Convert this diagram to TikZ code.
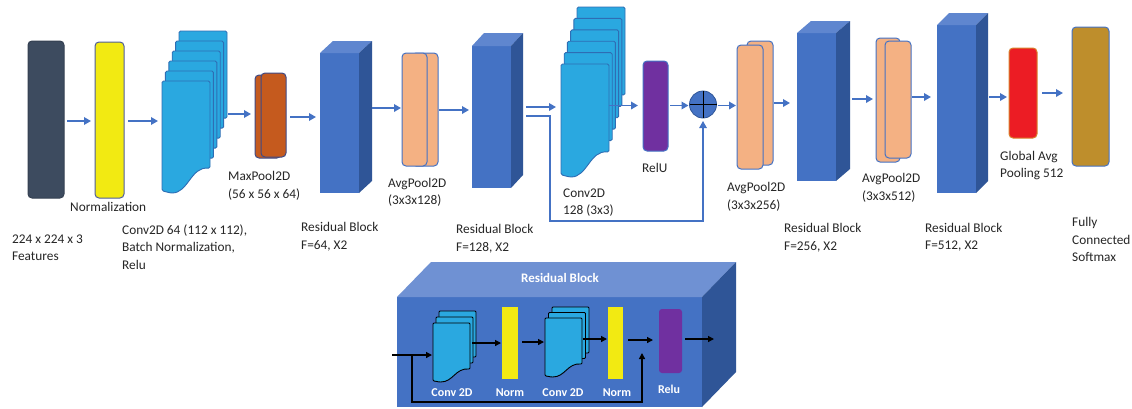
\documentclass[tikz,border=0pt]{standalone}
\usepackage{fontspec}
\setmainfont{Carlito}
\usetikzlibrary{arrows.meta,calc}
\definecolor{ablue}{HTML}{4472C4}
\definecolor{inpc}{HTML}{3D4B5F}
\definecolor{yelc}{HTML}{F2EA12}
\definecolor{yelline}{HTML}{4F5D9C}
\definecolor{cyanc}{HTML}{2AA8E0}
\definecolor{cyanline}{HTML}{2E6DB4}
\definecolor{mpc}{HTML}{C55A1E}
\definecolor{mpline}{HTML}{3E4A86}
\definecolor{apc}{HTML}{F4B183}
\definecolor{resfc}{HTML}{4472C4}
\definecolor{restc}{HTML}{5F86CF}
\definecolor{ressc}{HTML}{2F5597}
\definecolor{purp}{HTML}{7030A0}
\definecolor{redc}{HTML}{EC1C24}
\definecolor{redline}{HTML}{D9822B}
\definecolor{fcc}{HTML}{BE8E2C}
\definecolor{txt}{HTML}{262626}
\definecolor{dtop}{HTML}{6F91D3}
\tikzset{
 arr/.style={draw=ablue, line width=1.7pt, -{Triangle[length=7pt,width=7.5pt]}},
 iarr/.style={draw=black, line width=1.3pt, -{Triangle[length=6pt,width=6pt]}},
 blk/.style={rounded corners=4pt, line width=1pt, inner sep=0, outer sep=0},
 lbl/.style={font=\fontsize{13.3}{17.5}\selectfont, text=txt, align=left, inner sep=0, anchor=west},
 wlbl/.style={font=\bfseries\fontsize{12}{14}\selectfont, text=white, inner sep=0},
 sheetst/.style={fill=cyanc, draw=cyanline, line width=0.9pt, rounded corners=1.5pt},
 isheet/.style={fill=cyanc, draw=black, line width=0.9pt, rounded corners=1pt},
 resfront/.style={fill=resfc, inner sep=0, outer sep=0},
 ghost/.style={inner sep=0, outer sep=0},
}
% x, y(top), w, h, style
\newcommand\convsheet[5]{\draw[#5] ({#1},{#2}) -- ({#1+#3},{#2}) -- ({#1+#3},{#2+0.78*#4}) .. controls ({#1+0.6*#3},{#2+0.76*#4}) and ({#1+0.55*#3},{#2+#4}) .. ({#1+0.18*#3},{#2+#4}) -- ({#1},{#2+0.98*#4}) -- cycle;}
% name, x left, y top, w, h, dx, dy(up)
\newcommand\rblock[7]{%
 \node[resfront, minimum width=#4pt, minimum height=#5pt, anchor=north west] (#1) at (#2,#3) {};
 \fill[restc] (#1.north west) -- ++(#6,-#7) -- ++(#4,0) -- (#1.north east) -- cycle;
 \fill[ressc] (#1.north east) -- ++(#6,-#7) -- ++(0,#5) -- (#1.south east) -- cycle;
 \coordinate (#1o) at ($(#1.east)+(#6,0)$);
}
\begin{document}
\begin{tikzpicture}[x=1pt,y=-1pt]
\useasboundingbox (0,0) rectangle (1132,408);
\fill[white] (0,0) rectangle (1132,408);

% input and normalization
\node[blk, fill=inpc, draw=inpc!85!black, minimum width=36pt, minimum height=157pt] (inp) at (46,119.5) {};
\node[blk, fill=yelc, draw=yelline, minimum width=29pt, minimum height=156pt] (nrm) at (109.5,120) {};

% conv stack 1
\foreach \i in {5,4,...,0} {\convsheet{162+3.4*\i}{81-10*\i}{48}{112}{sheetst}}
\node[ghost, minimum width=48pt, minimum height=112pt, anchor=north west] (c1) at (162,81) {};
\coordinate (c1o) at ($(c1.east)+(17,0)$);

% maxpool
\node[blk, fill=mpc, draw=mpline, minimum width=26pt, minimum height=83pt] (mpb) at (268,116.5) {};
\node[blk, fill=mpc, draw=mpline, minimum width=25pt, minimum height=84pt] (mp) at (273.5,115) {};

% residual blocks
\rblock{r1}{320}{53}{39}{140}{13}{12}
\rblock{r2}{472}{46}{39}{142}{12}{13}
\rblock{r3}{797}{33}{39}{148}{14}{12}
\rblock{r4}{937}{25}{39}{168}{12}{12}

% avgpools
\node[blk, fill=apc, draw=ablue, minimum width=26pt, minimum height=113pt] (a1b) at (425,109.5) {};
\node[blk, fill=apc, draw=ablue, minimum width=25pt, minimum height=113pt] (a1) at (414.5,109.5) {};
\node[blk, fill=apc, draw=ablue, minimum width=26pt, minimum height=124pt] (a3b) at (760,103) {};
\node[blk, fill=apc, draw=ablue, minimum width=26pt, minimum height=124pt] (a3) at (750,107) {};
\node[blk, fill=apc, draw=ablue, minimum width=24pt, minimum height=124pt] (a4b) at (888,100) {};
\node[blk, fill=apc, draw=ablue, minimum width=26pt, minimum height=117pt] (a4) at (898,99.5) {};

% conv stack 2
\foreach \i in {5,4,...,0} {\convsheet{561+3.2*\i}{64-11.4*\i}{48}{113}{sheetst}}
\node[ghost, minimum width=48pt, minimum height=113pt, anchor=north west] (c2) at (561,64) {};

% relu, plus, gap, fc
\node[blk, fill=purp, draw=ablue, minimum width=25pt, minimum height=90pt] (relu) at (655.5,106) {};
\node[circle, fill=ablue, draw=ressc, line width=0.8pt, minimum size=27pt, inner sep=0, outer sep=0] (pl) at (703,104.5) {};
\draw[black, line width=1pt] (pl.north) -- (pl.south) (pl.west) -- (pl.east);
\node[blk, fill=redc, draw=redline, minimum width=28pt, minimum height=90pt] (gap) at (1023,93) {};
\node[blk, fill=fcc, draw=ablue, minimum width=37pt, minimum height=139pt] (fc) at (1090.5,96.5) {};

% main arrows
\draw[arr, shorten <=3pt, shorten >=4pt] (inp.east |- 0,121) -- (nrm.west |- 0,121);
\draw[arr, shorten <=4pt, shorten >=4pt] (nrm.east |- 0,121) -- (c1.west |- 0,121);
\draw[arr, shorten <=1pt, shorten >=4pt] (c1o |- 0,114) -- (mpb.west |- 0,114);
\draw[arr, shorten <=4pt, shorten >=4pt] (mp.east |- 0,117) -- (r1.west |- 0,117);
\draw[arr, shorten >=1pt] (r1o |- 0,108) -- (a1.west |- 0,108);
\draw[arr, shorten <=1pt, shorten >=3pt] (a1b.east |- 0,110) -- (r2.west |- 0,110);
\draw[arr, shorten <=3pt, shorten >=5pt] (r2o |- 0,107) -- (c2.west |- 0,107);
\draw[arr, shorten >=5pt] (c2.east |- 0,105.5) -- (relu.west |- 0,105.5);
\draw[arr, shorten <=2pt, shorten >=1pt] (relu.east |- 0,105.5) -- (pl.west |- 0,105.5);
\draw[arr, shorten <=1pt, shorten >=1pt] (pl.east |- 0,105.5) -- (a3.west |- 0,105.5);
\draw[arr, shorten <=1pt, shorten >=7pt] (a3b.east |- 0,103) -- (r3.west |- 0,103);
\draw[arr, shorten <=2pt, shorten >=3pt] (r3o |- 0,99) -- (a4b.west |- 0,99);
\draw[arr, shorten <=1pt, shorten >=6pt] (a4.east |- 0,97) -- (r4.west |- 0,97);
\draw[arr, shorten <=1pt, shorten >=2pt] (r4o |- 0,97) -- (gap.west |- 0,97);
\draw[arr, shorten <=5pt, shorten >=9pt] (gap.east |- 0,93) -- (fc.west |- 0,93);
% skip connection
\coordinate (k1) at (550,221);
\draw[arr, line width=1.2pt, shorten <=3pt, shorten >=3pt] (r2o |- 0,116) -| (k1) -| (pl.south);

% labels
\node[lbl] (t1) at (70,207) {Normalization};
\node[lbl] (t2) at (12,247.5) {224 x 224 x 3\\Features};
\node[lbl] (t3) at (122,247) {Conv2D 64 (112 x 112),\\Batch Normalization,\\Relu};
\node[lbl] (t4) at (228,186) {MaxPool2D\\(56 x 56 x 64)};
\node[lbl] (t5) at (301,236.5) {Residual Block\\F=64, X2};
\node[lbl] (t6) at (388,192.5) {AvgPool2D\\(3x3x128)};
\node[lbl] (t7) at (456,238.5) {Residual Block\\F=128, X2};
\node[lbl] (t8) at (563,202.5) {Conv2D\\128 (3x3)};
\node[lbl] (t9) at (642,168) {RelU};
\node[lbl] (t10) at (727,197) {AvgPool2D\\(3x3x256)};
\node[lbl] (t11) at (784,237.5) {Residual Block\\F=256, X2};
\node[lbl] (t12) at (862,188) {AvgPool2D\\(3x3x512)};
\node[lbl] (t13) at (925,237) {Residual Block\\F=512, X2};
\node[lbl] (t14) at (1000,165.5) {Global Avg\\Pooling 512};
\node[lbl] (t15) at (1072,239.5) {Fully\\Connected\\Softmax};

% residual block detail
\node[resfront, minimum width=305pt, minimum height=110pt, anchor=north west] (rd) at (397,297) {};
\fill[dtop] (rd.north west) -- ++(34,-35) -- ++(305,0) -- (rd.north east) -- cycle;
\fill[ressc] (rd.north east) -- ++(34,-35) -- ++(0,110) -- (rd.south east) -- cycle;
\node[wlbl, font=\bfseries\fontsize{13}{15}\selectfont] (rdt) at (560,278) {Residual Block};

\coordinate (rin) at (392,355);
\foreach \i in {2,1,0} {\convsheet{433+3*\i}{323-6*\i}{37}{59}{isheet}}
\node[ghost, minimum width=37pt, minimum height=59pt, anchor=north west] (ic1) at (433,323) {};
\node[fill=yelc, inner sep=0, outer sep=0, minimum width=16pt, minimum height=72pt] (in1) at (510,343) {};
\foreach \i in {2,1,0} {\convsheet{545+3.5*\i}{318-5.5*\i}{37}{59}{isheet}}
\node[ghost, minimum width=37pt, minimum height=59pt, anchor=north west] (ic2) at (545,318) {};
\node[fill=yelc, inner sep=0, outer sep=0, minimum width=15pt, minimum height=72pt] (in2) at (615.5,343) {};
\node[fill=purp, rounded corners=3pt, inner sep=0, outer sep=0, minimum width=23pt, minimum height=64pt] (ir) at (670.5,341) {};
\coordinate (rout) at (714,339);
\coordinate (sk) at (412,402);
\coordinate (skt) at (642,353);

\draw[iarr, shorten >=1pt] (rin) -- (ic1.west |- rin);
\draw[iarr, shorten <=2pt, shorten >=1pt] (ic1.east |- 0,343) -- (in1.west |- 0,343);
\draw[iarr, shorten <=4pt, shorten >=1pt] (in1.east |- 0,342) -- (ic2.west |- 0,342);
\draw[iarr, shorten <=1pt, shorten >=1pt] (ic2.east |- 0,339) -- (in2.west |- 0,339);
\draw[iarr, shorten <=5pt, shorten >=6pt] (in2.east |- 0,340) -- (ir.west |- 0,340);
\draw[iarr, shorten <=3pt] (ir.east |- 0,339) -- (rout);
\draw[iarr] (sk |- rin) -- (sk) -| (skt);

\node[wlbl] (l1) at (452,393) {Conv 2D};
\node[wlbl] (l2) at (510,393) {Norm};
\node[wlbl] (l3) at (563,393) {Conv 2D};
\node[wlbl] (l4) at (617,393) {Norm};
\node[wlbl] (l5) at (669,389) {Relu};
\end{tikzpicture}
\end{document}
